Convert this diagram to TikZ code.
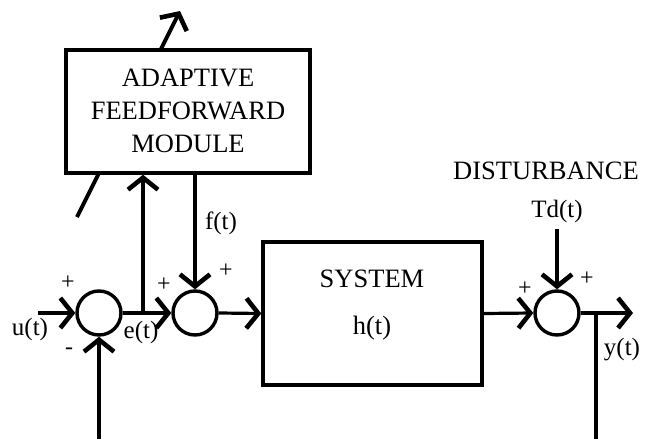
\documentclass[tikz,border=0pt]{standalone}
\usepackage{fontspec}
\setmainfont{Liberation Serif}
\usetikzlibrary{arrows.meta}
\begin{document}
\begin{tikzpicture}[x=1pt,y=-1pt,
  ln/.style={line width=3.2pt},
  tip/.style={-{Straight Barb[length=12pt,width=30pt,line width=4.6pt]}},
  arr/.style={line width=3.2pt,tip},
  blk/.style={draw,line width=3.4pt,fill=white,align=center,inner sep=0pt},
  sum/.style={draw,circle,line width=3.4pt,minimum size=44pt,inner sep=0pt},
  lbl/.style={font=\fontsize{25}{28}\selectfont,inner sep=0pt},
  sgn/.style={font=\fontsize{24}{24}\selectfont,inner sep=0pt},
  txt/.style={font=\fontsize{26.5}{33}\selectfont}]
\useasboundingbox (0,0) rectangle (649,439);
% diagonal adaptation arrow (behind box)
\coordinate (d1) at (77,217);
\coordinate (d2) at (180,11);
\draw[line width=4pt,tip] (d1) -- (d2);
% blocks
\node[blk,minimum width=244pt,minimum height=123pt] (afm) at (188,111.5) {};
\node[txt,align=center,inner sep=0pt] (afmtxt) at (188,111) {ADAPTIVE\\FEEDFORWARD\\MODULE};
\node[blk,minimum width=219pt,minimum height=143pt] (sys) at (372.5,313.5) {};
\node[txt,inner sep=0pt] (systxt) at (372,279) {SYSTEM};
\node[txt,inner sep=0pt] (htxt) at (372,328) {h(t)};
% summing junctions
\node[sum] (s1) at (99,313) {};
\node[sum] (s2) at (195,313) {};
\node[sum] (s3) at (557,313) {};
% coordinates
\coordinate (in) at (38,313);
\coordinate (br1) at (143,313);
\coordinate (ft) at (195,173);
\coordinate (out) at (633,313);
\coordinate (br2) at (596,313);
\coordinate (fb2) at (596,439);
\coordinate (fb1) at (99,439);
\coordinate (td) at (557,229);
% connectors
\draw[arr] (in) -- (s1.west);
\draw[arr] (s1.east) -- (s2.west);
\draw[arr] (br1) -- (afm.south -| br1);
\draw[arr] (ft) -- (s2.north);
\draw[arr] (s2.east) -- (sys.west);
\draw[arr] (sys.east) -- (s3.west);
\draw[arr] (s3.east) -- (out);
\draw[ln] (br2) -- (fb2);
\draw[arr] (fb1) -- (s1.south);
\draw[arr] (td) -- (s3.north);
% labels
\node[lbl] (ul) at (30,329) {u(t)};
\node[lbl] (el) at (141,332) {e(t)};
\node[lbl] (fl) at (221,223) {f(t)};
\node[lbl] (yl) at (622,350) {y(t)};
\node[lbl] (tdl) at (557,211) {Td(t)};
\node[txt,inner sep=0pt] (dist) at (546,171) {DISTURBANCE};
\node[sgn] (p1) at (68,283) {+};
\node[sgn] (m1) at (69,351) {-};
\node[sgn] (p2) at (164,285) {+};
\node[sgn] (p3) at (226,271) {+};
\node[sgn] (p4) at (525,289) {+};
\node[sgn] (p5) at (587,279) {+};
\end{tikzpicture}
\end{document}
